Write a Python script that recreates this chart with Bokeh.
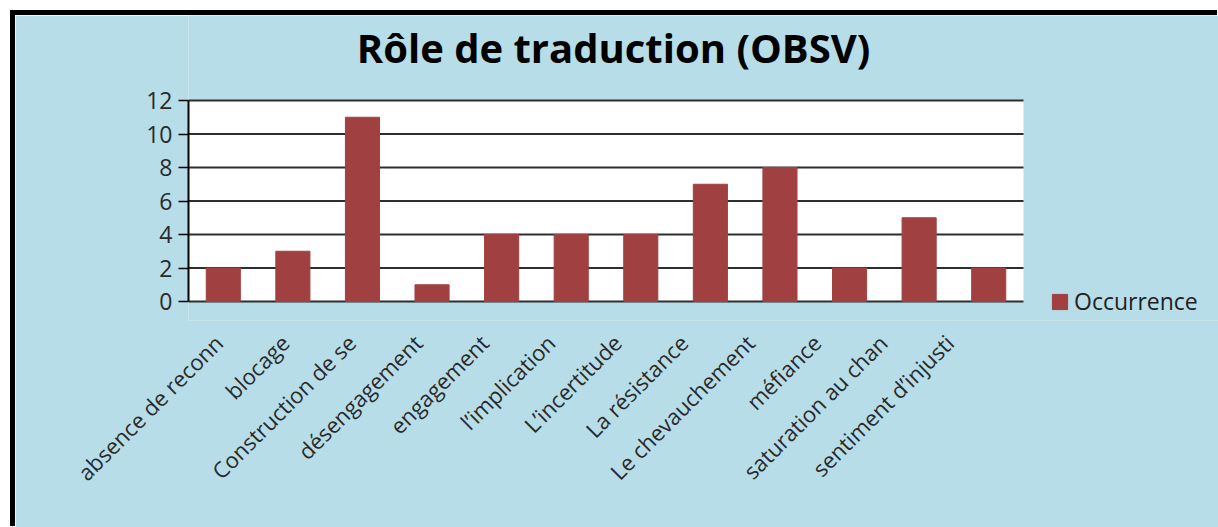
import numpy as np
from bokeh.plotting import figure
from bokeh.models import (Range1d, LinearAxis, FixedTicker, Legend,
                          LegendItem, Label, BoxAnnotation)
from bokeh.embed import file_html
from bokeh.resources import INLINE

# ---- data ----
categories = ["absence de reconn", "blocage", "Construction de se", "désengagement",
              "engagement", "l’implication", "L’incertitude", "La résistance",
              "Le chevauchement", "méfiance", "saturation au chan", "sentiment d’injusti"]
occurrence = [2, 3, 11, 1, 4, 4, 4, 7, 8, 2, 5, 2]
y_ticks = [0, 2, 4, 6, 8, 10, 12]
series_name = "Occurrence"
title_text = "Rôle de traduction (OBSV)"

BG = "#B7DDE8"
BAR = "#A04040"
FONT = "Open Sans"

n = len(categories)
idx = list(range(n))
y_max = y_ticks[-1]

# canvas layout (pixels)
W, H = 1203, 512
LEFT, FRAME_BOTTOM = 173, 305
PLOT_TOP, PLOT_BOTTOM, PLOT_W = 85, 286, 835
px_y = (PLOT_BOTTOM - PLOT_TOP) / y_max
px_x = PLOT_W / n
frame_w = W - LEFT

p = figure(width=W, height=H,
           x_range=Range1d(-0.5, -0.5 + frame_w / px_x),
           y_range=Range1d(-(FRAME_BOTTOM - PLOT_BOTTOM) / px_y, y_max + PLOT_TOP / px_y),
           output_backend="svg", toolbar_location=None,
           min_border_left=LEFT, min_border_right=0,
           min_border_top=0, min_border_bottom=H - FRAME_BOTTOM)
p.styles = {"margin-left": "15px", "margin-top": "15px",
            "box-shadow": "-3px -3px 0 2px black"}

p.border_fill_color = BG
p.background_fill_color = BG
p.outline_line_color = None
p.xgrid.visible = False
p.ygrid.visible = False

# white plot area
p.add_layout(BoxAnnotation(left=-0.5, right=n - 0.5, bottom=0, top=y_max,
                           fill_color="white", fill_alpha=1, line_color=None,
                           level="underlay"))

# horizontal grid lines
p.segment(x0=[-0.5] * len(y_ticks), x1=[n - 0.5] * len(y_ticks),
          y0=y_ticks, y1=y_ticks, line_color="#2e2e2e", line_width=2)

r = p.vbar(x=idx, top=occurrence, width=0.49, fill_color=BAR, line_color=BAR)

# y axis
p.yaxis.ticker = FixedTicker(ticks=y_ticks)
p.yaxis.bounds = (0, y_max)
p.yaxis.major_tick_out = 10
p.yaxis.major_tick_in = 0
p.yaxis.minor_tick_line_color = None
p.yaxis.axis_line_color = "black"
p.yaxis.axis_line_width = 2
p.yaxis.major_tick_line_color = "black"
p.yaxis.major_tick_line_width = 1.5
p.yaxis.major_label_text_font = FONT
p.yaxis.major_label_text_font_size = "23px"
p.yaxis.major_label_text_color = "#2a2a2a"
p.yaxis.major_label_standoff = 6

p.xaxis.visible = False

# category label axis (Excel places labels with a slightly smaller pitch)
lab_px = 66.45
lab_start = -0.451
p.extra_x_ranges = {"lab": Range1d(lab_start, lab_start + frame_w / lab_px)}
lab_axis = LinearAxis(x_range_name="lab",
                      ticker=FixedTicker(ticks=idx),
                      major_label_overrides={i: c for i, c in enumerate(categories)},
                      major_label_orientation=np.pi / 4,
                      axis_line_color=None, major_tick_line_color=None,
                      minor_tick_line_color=None,
                      major_label_text_font=FONT,
                      major_label_text_font_size="22px",
                      major_label_text_color="#2a2a2a",
                      major_label_standoff=12)
p.add_layout(lab_axis, "below")

# title
p.add_layout(Label(x=425, y=FRAME_BOTTOM - 32, x_units="screen", y_units="screen",
                   text=title_text, text_align="center", text_baseline="alphabetic",
                   text_font=FONT, text_font_size="40px", text_font_style="bold",
                   text_color="#000000"))

legend = Legend(items=[LegendItem(label=series_name, renderers=[r])],
                location=(862, 3), glyph_width=19, glyph_height=19,
                label_text_font=FONT, label_text_font_size="23px",
                label_text_color="#222222", label_standoff=5,
                background_fill_alpha=0, border_line_color=None,
                padding=0, margin=0, spacing=0)
p.add_layout(legend)

open("out.html", "w").write(file_html(p, INLINE))
